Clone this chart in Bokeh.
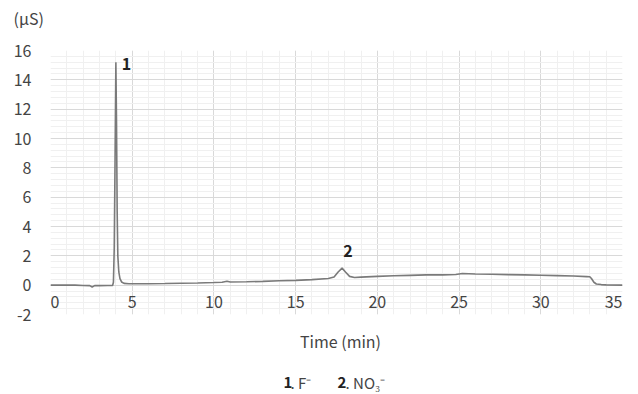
from bokeh.plotting import figure
from bokeh.layouts import column
from bokeh.models import Range1d, SingleIntervalTicker, ColumnDataSource
from bokeh.core.properties import value
from bokeh.embed import file_html
from bokeh.resources import INLINE

# ---- data ----
time_min = [0.0, 0.5, 1.0, 1.5, 2.0, 2.4, 2.55, 2.7, 3.0, 3.5, 3.8,
            3.85, 3.9, 3.95, 4.0, 4.04, 4.08, 4.12, 4.18, 4.25, 4.35, 4.5, 4.8,
            5.0, 6.0, 7.0, 8.0, 9.0, 10.0, 10.5, 10.8, 11.0, 12.0, 13.0, 14.0,
            15.0, 16.0, 17.0, 17.35, 17.6, 17.84, 18.05, 18.3, 18.6, 19.0,
            20.0, 21.0, 22.0, 23.0, 24.0, 24.8, 25.2, 25.6, 26.0, 27.0, 28.0,
            29.0, 30.0, 31.0, 32.0, 32.8, 33.0, 33.1, 33.25, 33.4, 33.7, 34.0, 35.0]
conductivity = [0.0, 0.0, 0.0, 0.0, -0.02, -0.03, -0.12, -0.03, -0.03, -0.02, -0.02,
                0.2, 2.5, 8.5, 15.2, 11.0, 5.0, 2.0, 0.9, 0.45, 0.22, 0.12, 0.1,
                0.1, 0.1, 0.11, 0.13, 0.15, 0.18, 0.2, 0.27, 0.22, 0.23, 0.26, 0.3,
                0.33, 0.38, 0.45, 0.55, 0.9, 1.16, 0.9, 0.6, 0.52, 0.55,
                0.6, 0.64, 0.67, 0.7, 0.7, 0.73, 0.8, 0.78, 0.76, 0.74, 0.72,
                0.7, 0.68, 0.65, 0.62, 0.58, 0.57, 0.45, 0.2, 0.08, 0.04, 0.02, 0.0]
x_ticks = [0, 5, 10, 15, 20, 25, 30, 35]
x_tick_labels = ["0", "5", "10", "15", "20", "25", "30", "35"]
y_ticks = [-2, 0, 2, 4, 6, 8, 10, 12, 14, 16]
y_tick_labels = ["-2", "0", "2", "4", "6", "8", "10", "12", "14", "16"]
peak_labels = ["1", "2"]
peak_label_x = [4.65, 18.2]
peak_label_y = [15.05, 2.3]
y_unit = "(µS)"
x_title = "Time (min)"
key_numbers = ["1", "2"]
key_names = [". F⁻", ". NO₃⁻"]

FONT = value("Noto Sans CJK JP")
FONTNAME = "Noto Sans CJK JP"
TXT = "#444444"
DARK = "#222222"
W = 638
TOP_H, MAIN_H, BOT_H = 36, 290, 68


def blank(height):
    f = figure(width=W, height=height, output_backend="svg", toolbar_location=None,
               x_range=Range1d(0, W), y_range=Range1d(height, 0),
               x_axis_location=None, y_axis_location=None,
               min_border_left=0, min_border_right=0, min_border_top=0,
               min_border_bottom=0)
    f.outline_line_color = None
    f.grid.visible = False
    if "frame_align" in f.properties():
        f.frame_align = False
    return f


# ---- top strip: unit label ----
top = blank(TOP_H)
top.text(x=[13], y=[17], text=[y_unit], text_font=FONT, text_font_size="16px",
         text_color=TXT, text_align="left", text_baseline="middle")

# ---- main chart ----
p = figure(width=W, height=MAIN_H, output_backend="svg", toolbar_location=None,
           x_range=Range1d(0, 35), y_range=Range1d(-2, 16),
           min_border_left=50, min_border_right=16, min_border_top=14,
           min_border_bottom=12)
p.outline_line_color = None

xt = SingleIntervalTicker(interval=5, num_minor_ticks=5)
yt = SingleIntervalTicker(interval=2, num_minor_ticks=5)
p.xaxis.ticker = xt
p.yaxis.ticker = yt
p.xgrid.ticker = xt
p.ygrid.ticker = yt
for g in (p.xgrid, p.ygrid):
    g.grid_line_color = "#d9d9d9"
    g.grid_line_width = 1
    g.minor_grid_line_color = "#f0f0f0"
    g.minor_grid_line_width = 1

p.xaxis.visible = False
ax = p.yaxis[0]
ax.axis_line_color = None
ax.major_tick_line_color = None
ax.minor_tick_line_color = None
ax.major_label_text_font = FONTNAME
ax.major_label_text_font_size = "16px"
ax.major_label_text_color = TXT
ax.major_label_standoff = 13
ax.major_label_overrides = dict(zip(y_ticks, y_tick_labels))

p.line(time_min, conductivity, line_color="#7a7a7a", line_width=1.6)

# x tick labels sit just under the zero line, kept inside the frame at the edges
aligns = ["left" if t == min(x_ticks) else "right" if t == max(x_ticks) else "center"
          for t in x_ticks]
tick_src = ColumnDataSource(dict(x=x_ticks, y=[0] * len(x_ticks),
                                 text=x_tick_labels, align=aligns))
p.text(x="x", y="y", text="text", source=tick_src, text_align="align",
       text_baseline="middle", y_offset=17, text_font=FONT,
       text_font_size="16px", text_color=TXT)

p.text(x=peak_label_x, y=peak_label_y, text=peak_labels, text_font=FONT,
       text_font_size="16px", text_font_style="bold", text_color=DARK,
       text_align="center", text_baseline="middle")

# ---- bottom strip: axis title and compound key ----
bot = blank(BOT_H)
bot.text(x=[340], y=[14], text=[x_title], text_font=FONT, text_font_size="16px",
         text_color=TXT, text_align="center", text_baseline="middle")
ky = 56
bot.text(x=[283, 337], y=[ky, ky], text=key_numbers, text_font=FONT,
         text_font_size="15px", text_font_style="bold", text_color=DARK,
         text_baseline="middle")
bot.text(x=[290, 345], y=[ky, ky], text=key_names, text_font=FONT,
         text_font_size="15px", text_color=TXT, text_baseline="middle")

layout = column(top, p, bot, spacing=0)
open("out.html", "w").write(file_html(layout, INLINE))
